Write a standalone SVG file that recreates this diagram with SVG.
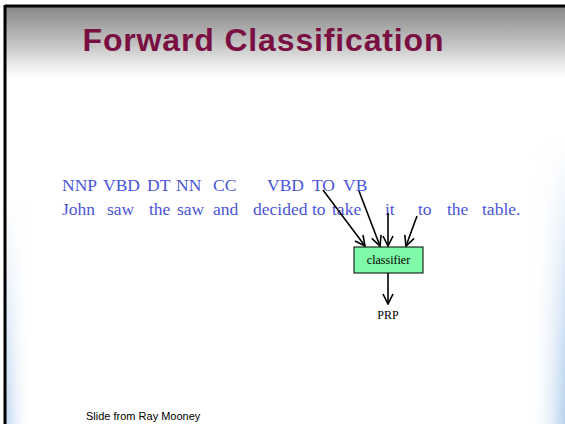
<svg xmlns="http://www.w3.org/2000/svg" width="565" height="424" viewBox="0 0 565 424">
<defs>
<linearGradient id="hdr" x1="0" y1="0" x2="0" y2="1">
<stop offset="0" stop-color="#878787"/>
<stop offset="0.55" stop-color="#c8c8c8"/>
<stop offset="0.85" stop-color="#f2f2f2"/>
<stop offset="1" stop-color="#ffffff"/>
</linearGradient>
<linearGradient id="rside" gradientUnits="userSpaceOnUse" x1="530" y1="0" x2="565" y2="0">
<stop offset="0" stop-color="#ffffff" stop-opacity="0"/>
<stop offset="1" stop-color="#b5d0ee"/>
</linearGradient>
<linearGradient id="lside" gradientUnits="userSpaceOnUse" x1="6" y1="0" x2="32" y2="0">
<stop offset="0" stop-color="#c0d7f1"/>
<stop offset="1" stop-color="#ffffff" stop-opacity="0"/>
</linearGradient>
<linearGradient id="rfade" gradientUnits="userSpaceOnUse" x1="0" y1="140" x2="0" y2="424">
<stop offset="0" stop-color="#000"/>
<stop offset="1" stop-color="#fff"/>
</linearGradient>
<linearGradient id="lfade" gradientUnits="userSpaceOnUse" x1="0" y1="200" x2="0" y2="424">
<stop offset="0" stop-color="#000"/>
<stop offset="1" stop-color="#fff"/>
</linearGradient>
<mask id="rm" maskUnits="userSpaceOnUse" x="0" y="0" width="565" height="424"><rect x="520" y="140" width="45" height="284" fill="url(#rfade)"/></mask>
<mask id="lm" maskUnits="userSpaceOnUse" x="0" y="0" width="565" height="424"><rect x="6" y="200" width="30" height="224" fill="url(#lfade)"/></mask>
<marker id="ah" viewBox="0 0 12 12" refX="11" refY="6" markerWidth="12" markerHeight="12" markerUnits="userSpaceOnUse" orient="auto">
<path d="M1,1 L11,6 L1,11" fill="none" stroke="#000" stroke-width="1.6"/>
</marker>
<style>
.tag{font-family:"Liberation Serif","Times New Roman",serif;font-size:17.5px;fill:#4b55d6}
.lbl{font-family:"Liberation Serif","Times New Roman",serif;font-size:12px;fill:#000}
.arr{stroke:#000;stroke-width:1.6;fill:none;marker-end:url(#ah)}
</style>
</defs>
<rect x="0" y="0" width="565" height="424" fill="#ffffff"/>
<rect x="6" y="7" width="559" height="72" fill="url(#hdr)"/>
<rect x="520" y="140" width="45" height="284" fill="url(#rside)" mask="url(#rm)"/>
<rect x="6" y="200" width="30" height="224" fill="url(#lside)" mask="url(#lm)"/>
<line x1="5" y1="6" x2="565" y2="6" stroke="#000" stroke-width="3"/>
<line x1="5" y1="5" x2="5" y2="424" stroke="#000" stroke-width="3"/>
<text x="263" y="51" text-anchor="middle" font-family="Liberation Sans, Arial, sans-serif" font-weight="bold" font-size="32" fill="#7a1042" textLength="361" lengthAdjust="spacing">Forward Classification</text>
<g id="tags">
<text class="tag" x="62" y="191">NNP</text>
<text class="tag" x="103" y="191">VBD</text>
<text class="tag" x="147" y="191">DT</text>
<text class="tag" x="176" y="191">NN</text>
<text class="tag" x="213" y="191">CC</text>
<text class="tag" x="267" y="191">VBD</text>
<text class="tag" x="312" y="191">TO</text>
<text class="tag" x="343" y="191">VB</text>
</g>
<g id="sentence">
<text class="tag" x="62" y="215">John</text>
<text class="tag" x="107" y="215">saw</text>
<text class="tag" x="149" y="215">the</text>
<text class="tag" x="177" y="215">saw</text>
<text class="tag" x="213" y="215">and</text>
<text class="tag" x="253" y="215">decided</text>
<text class="tag" x="312" y="215">to</text>
<text class="tag" x="332" y="215">take</text>
<text class="tag" x="385" y="215">it</text>
<text class="tag" x="418" y="215">to</text>
<text class="tag" x="447" y="215">the</text>
<text class="tag" x="482" y="215">table.</text>
</g>
<g id="connectors">
<line class="arr" x1="323" y1="190" x2="365" y2="246"/>
<line class="arr" x1="359" y1="191" x2="380" y2="246"/>
<line class="arr" x1="388" y1="213" x2="388" y2="246"/>
<line class="arr" x1="417" y1="216" x2="406" y2="246"/>
<line class="arr" x1="388" y1="273" x2="388" y2="304"/>
</g>
<g id="classifier">
<rect x="354" y="247" width="69" height="26" fill="#7ffaa8" stroke="#000" stroke-width="1"/>
<text class="lbl" x="388.5" y="264" text-anchor="middle">classifier</text>
</g>
<g id="prp">
<text class="lbl" x="388" y="319" text-anchor="middle">PRP</text>
</g>
<text x="86" y="420" font-family="Liberation Sans, Arial, sans-serif" font-size="11" fill="#000">Slide from Ray Mooney</text>
</svg>
